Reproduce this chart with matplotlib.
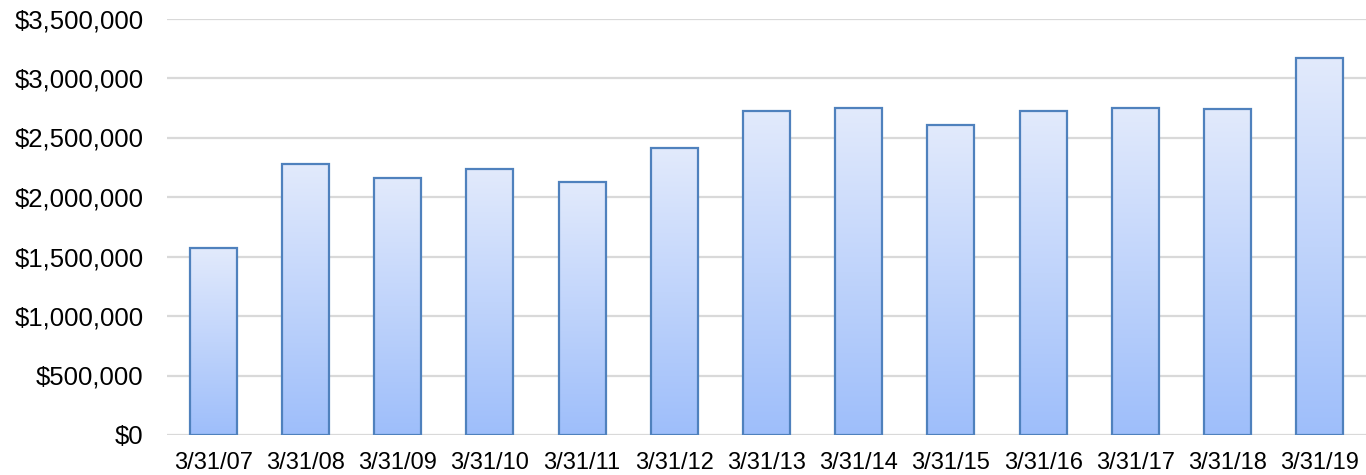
import matplotlib.pyplot as plt
import numpy as np
from matplotlib.colors import LinearSegmentedColormap
from matplotlib.ticker import FuncFormatter

plt.rcParams['font.family'] = ['Liberation Sans', 'DejaVu Sans']

dates = ['3/31/07', '3/31/08', '3/31/09', '3/31/10', '3/31/11', '3/31/12', '3/31/13',
         '3/31/14', '3/31/15', '3/31/16', '3/31/17', '3/31/18', '3/31/19']
values = [1570000, 2275000, 2160000, 2233000, 2126000, 2409000, 2725000,
          2747000, 2602000, 2719000, 2750000, 2742000, 3167000]

fig = plt.figure(figsize=(13.66, 4.75), dpi=100)
ax = fig.add_axes([167 / 1366, 40 / 475, 1 - 167 / 1366, (435 - 18.5) / 475])

x = np.arange(len(dates))
bars = ax.bar(x, values, width=0.51, color='none', edgecolor='#4f81bd', linewidth=1.6, zorder=3)

# vertical gradient inside each bar
cmap = LinearSegmentedColormap.from_list('grad', ['#9ebefa', '#e2eafc'])
grad = np.linspace(0, 1, 256).reshape(-1, 1)
for b in bars:
    x0, w, h = b.get_x(), b.get_width(), b.get_height()
    im = ax.imshow(grad, cmap=cmap, aspect='auto', origin='lower',
                   extent=[x0, x0 + w, 0, h], zorder=2)
    im.set_clip_path(b)

ax.set_xlim(-0.5, len(dates) - 0.5)
ax.set_ylim(0, 3500000)
ax.set_yticks(np.arange(0, 3500001, 500000))
ax.yaxis.set_major_formatter(FuncFormatter(lambda v, p: f'${v:,.0f}'))
ax.set_xticks(x)
ax.set_xticklabels(dates)

ax.grid(axis='y', color='#d9d9d9', linewidth=1.6, zorder=0)
for s in ax.spines.values():
    s.set_visible(False)
ax.tick_params(axis='both', length=0, colors='#000000')
ax.tick_params(axis='y', pad=17, labelsize=18.5)
ax.tick_params(axis='x', pad=12, labelsize=17)

fig.savefig('out.png', dpi=100)
